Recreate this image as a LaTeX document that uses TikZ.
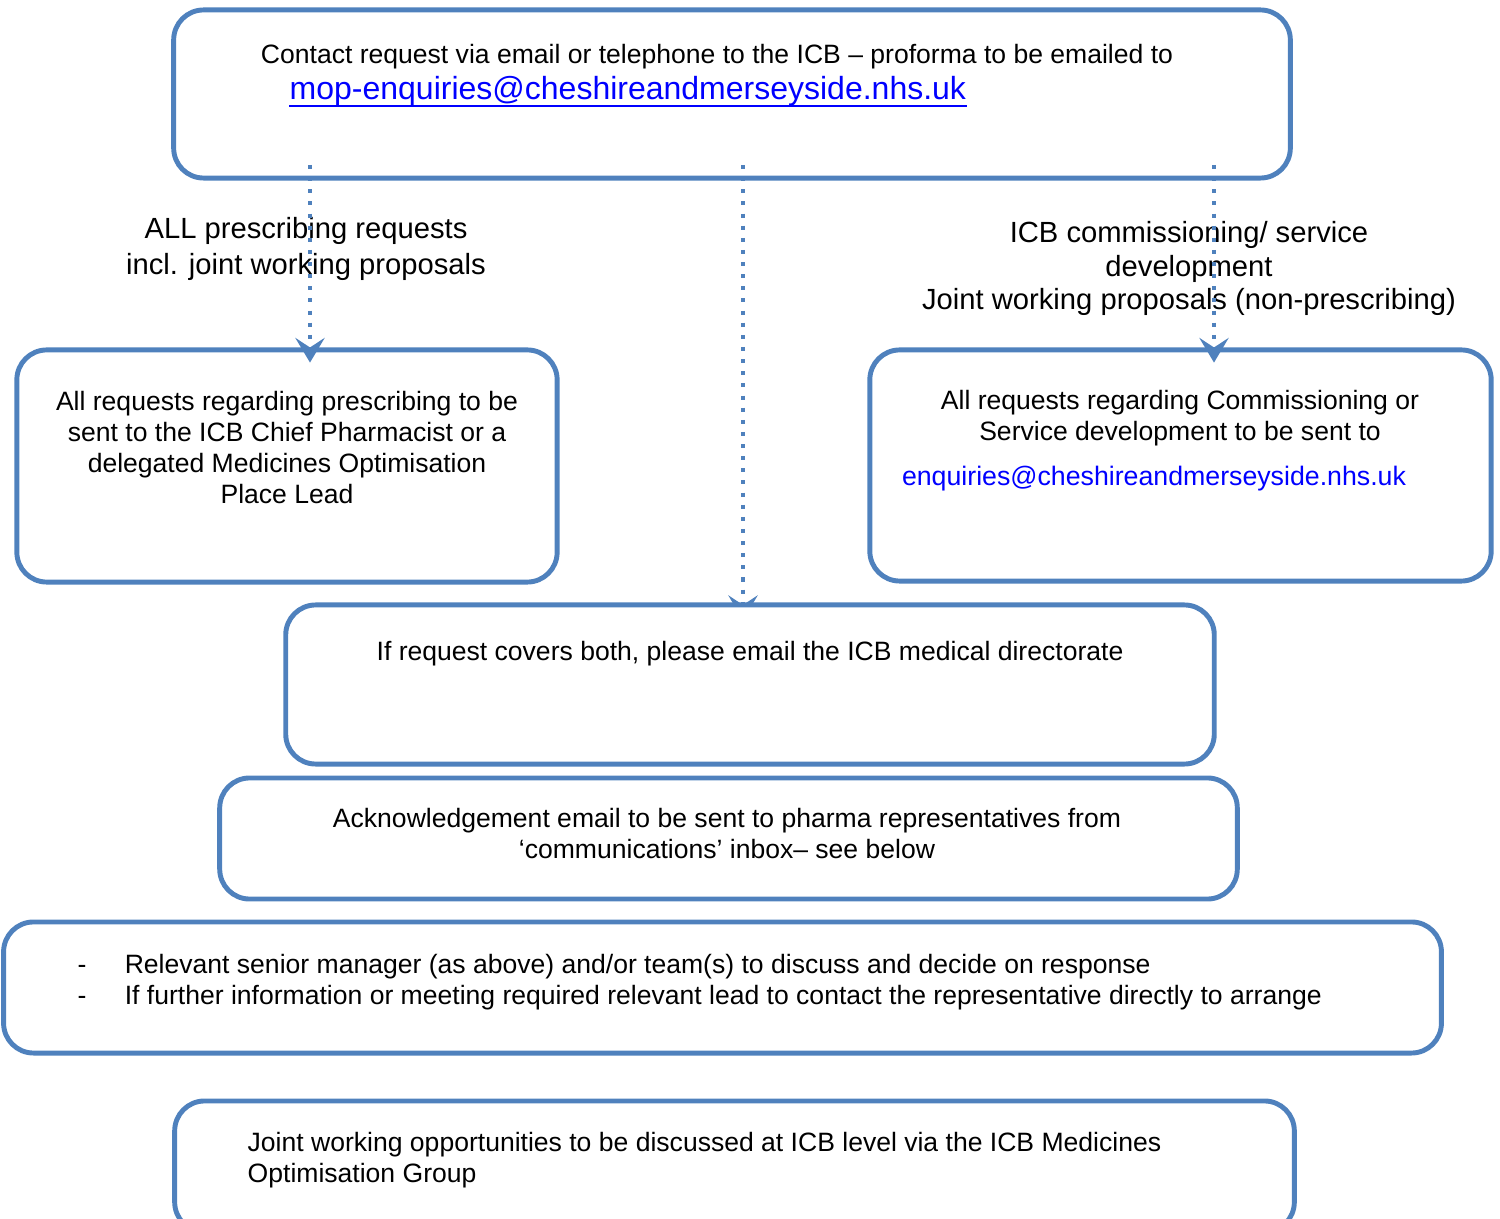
\documentclass[tikz,border=0pt]{standalone}
\usepackage{fontspec}
\setmainfont{Liberation Sans}
\usepackage{xcolor}
\usetikzlibrary{arrows.meta, backgrounds}
\definecolor{boxblue}{RGB}{79,129,189}
\definecolor{linkblue}{RGB}{0,0,255}

\begin{document}
\begin{tikzpicture}[x=0.01cm, y=-0.01cm,
        box/.style={draw=boxblue, line width=1.4pt, rounded corners=8.5pt, inner sep=0pt},
        txt/.style={inner sep=0pt, font=\fontsize{7.55}{8.8}\selectfont, align=center},
        lbl/.style={inner sep=0pt, font=\fontsize{8.3}{10}\selectfont, align=center},
        flow/.style={boxblue, line width=1.15pt, dash pattern=on 1.15pt off 2.3pt,
            -{Stealth[length=7pt, width=8.3pt, inset=2.7pt]}}]
        \clip (0,0) rectangle (1500,1219);

        % boxes
        \node[box, minimum width=11.16cm, minimum height=1.68cm] (contact) at (732,94) {};
        \node[box, minimum width=5.40cm, minimum height=2.32cm] (presc) at (287,466) {};
        \node[box, minimum width=6.21cm, minimum height=2.31cm] (comm) at (1180.5,465.5) {};
        \node[box, fill=white, minimum width=9.28cm, minimum height=1.59cm] (both) at (750,684.5) {};
        \node[box, minimum width=10.17cm, minimum height=1.21cm] (ack) at (728.5,838.5) {};
        \node[box, minimum width=14.37cm, minimum height=1.31cm] (resp) at (722.5,987.5) {};
        \node[box, minimum width=11.19cm, minimum height=1.31cm] (joint) at (734.5,1166.5) {};

        % texts
        \node[txt, anchor=base] (contacttxt) at (717,64)
            {Contact request via email or telephone to the ICB -- proforma to be emailed to};
        \node[txt, anchor=base west, text=linkblue, font=\fontsize{9.1}{10}\selectfont] (mail) at (289,100)
            {mop-enquiries@cheshireandmerseyside.nhs.uk};
        \draw[linkblue, line width=0.55pt] ([yshift=-1.8pt]mail.base west) -- ([yshift=-1.8pt]mail.base east);
        \node[txt, anchor=north] (presctxt) at (287,391)
            {All requests regarding prescribing to be\\sent to the ICB Chief Pharmacist or a\\delegated Medicines Optimisation\\Place Lead};
        \node[txt, anchor=north] (commtxt) at (1180,390)
            {All requests regarding Commissioning or\\Service development to be sent to};
        \node[txt, anchor=base, text=linkblue, font=\fontsize{7.6}{8.8}\selectfont] (commmail) at (1154,486)
            {enquiries@cheshireandmerseyside.nhs.uk};
        \node[txt, anchor=base] (bothtxt) at (750,660)
            {If request covers both, please email the ICB medical directorate};
        \node[txt, anchor=north] (acktxt) at (727,808)
            {Acknowledgement email to be sent to pharma representatives from\\`communications' inbox-- see below};
        \node[txt, anchor=north west, align=left] (resptxt) at (77,954)
            {\makebox[13.4pt][l]{-}Relevant senior manager (as above) and/or team(s) to discuss and decide on response\\
             \makebox[13.4pt][l]{-}If further information or meeting required relevant lead to contact the representative directly to arrange};
        \node[txt, anchor=north west, align=left] (jointtxt) at (247,1132)
            {Joint working opportunities to be discussed at ICB level via the ICB Medicines\\Optimisation Group};

        % route labels
        \node[lbl, anchor=north] (presclbl) at (306,217)
            {ALL prescribing requests\\incl. joint working proposals};
        \node[lbl, anchor=north, font=\fontsize{8.3}{9.5}\selectfont] (commlbl) at (1189,221)
            {ICB commissioning/ service\\development\\Joint working proposals (non-prescribing)};

        % arrows
        \coordinate (s1) at (310,165);
        \coordinate (s2) at (743,165);
        \coordinate (s3) at (1214,165);
        \draw[flow, shorten >=-4.3pt] (s1) -- (s1 |- presc.north);
        \draw[flow, shorten >=-4.3pt] (s3) -- (s3 |- comm.north);
        \begin{pgfonlayer}{background}
            \draw[flow, shorten >=-5pt] (s2) -- (s2 |- both.north);
        \end{pgfonlayer}
\end{tikzpicture}
\end{document}
